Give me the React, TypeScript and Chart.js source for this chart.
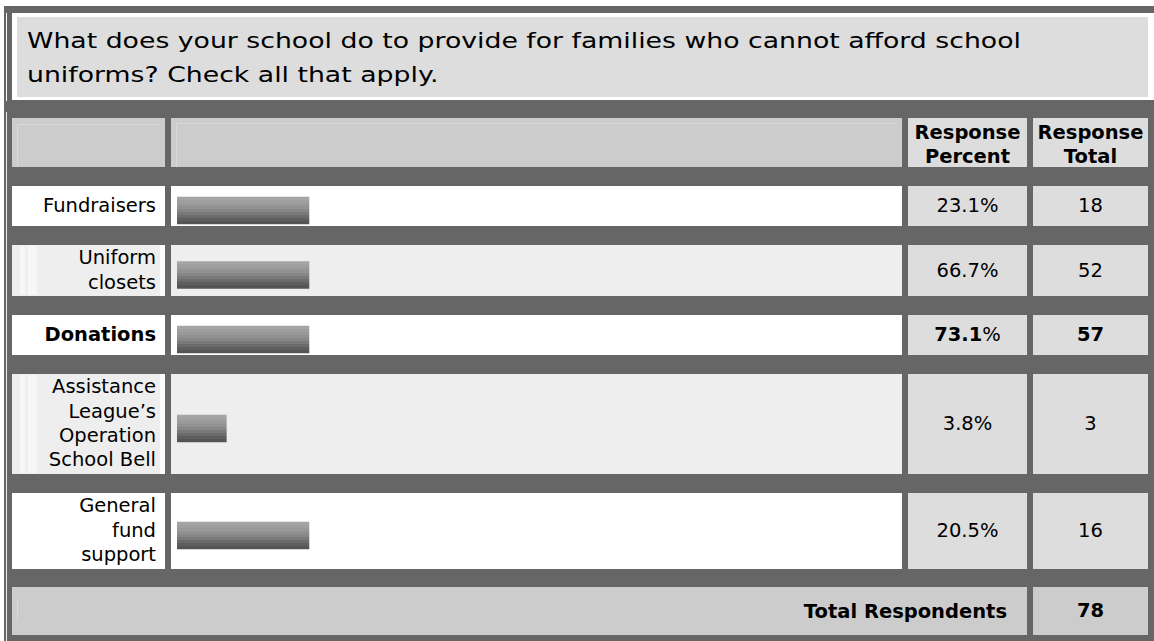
import React, { useEffect, useRef } from "react";
import { Chart, registerables } from "chart.js";

Chart.register(...registerables);

// ---------- data ----------
const questionLines = [
  "What does your school do to provide for families who cannot afford school",
  "uniforms? Check all that apply.",
];
const categories = [
  "Fundraisers",
  "Uniform closets",
  "Donations",
  "Assistance League\u2019s Operation School Bell",
  "General fund support",
];
const responsePercent = ["23.1", "66.7", "73.1", "3.8", "20.5"];
const responseTotal = [18, 52, 57, 3, 16];
// bar lengths as they are drawn in the picture (percent of the bar column)
const barLength = [18.2, 18.2, 18.2, 6.8, 18.2];
const highlighted = [false, false, true, false, false];
const totalRespondents = 78;
const headerPercent = ["Response", "Percent"];
const headerTotal = ["Response", "Total"];
const totalLabel = "Total Respondents";

// ---------- styling / layout ----------
const DARK = "#666666";
const FONT = "'DejaVu Sans', Verdana, sans-serif";
const FS = 19.5;
const barBands = [
  "#a5a5a5",
  "#9f9f9f",
  "#999999",
  "#919191",
  "#878787",
  "#797979",
  "#6b6b6b",
  "#5e5e5e",
  "#555555",
];

const COL = {
  label: { x: 12, w: 153 },
  bar: { x: 171, w: 731 },
  pct: { x: 908, w: 119 },
  tot: { x: 1033, w: 115 },
};
const HEADER = { y: 118, h: 49 };
const rowHeights = [40, 51, 40, 100, 76];
const ROW_GAP = 19;
const FIRST_ROW_Y = 186;
const TOTAL = { y: 587, h: 48 };

function rowTops() {
  const tops: number[] = [];
  let y = FIRST_ROW_Y;
  for (const h of rowHeights) {
    tops.push(y);
    y += h + ROW_GAP;
  }
  return tops;
}

function bandGradient(ctx: any) {
  const chart = ctx.chart;
  const area = chart.chartArea;
  if (!area) return "#888888";
  const yc = (area.top + area.bottom) / 2;
  const top = yc - 13.5;
  const bottom = yc + 13.5;
  const g = chart.ctx.createLinearGradient(0, top, 0, bottom);
  const n = barBands.length;
  barBands.forEach((c, i) => {
    g.addColorStop(i / n, c);
    g.addColorStop(Math.min(1, (i + 1) / n - 0.0001), c);
  });
  return g;
}

function BarCell({ value, width, height }: { value: number; width: number; height: number }) {
  const ref = useRef<HTMLCanvasElement>(null);
  useEffect(() => {
    if (!ref.current) return;
    const chart = new Chart(ref.current, {
      type: "bar",
      data: {
        labels: [""],
        datasets: [
          {
            data: [value],
            backgroundColor: bandGradient as any,
            borderWidth: 0,
            barThickness: 27,
          },
        ],
      },
      options: {
        indexAxis: "y",
        responsive: false,
        animation: false,
        layout: { padding: { left: 6, right: 0, top: 9, bottom: 0 } },
        plugins: { legend: { display: false }, tooltip: { enabled: false } },
        scales: {
          x: { display: false, min: 0, max: 100 },
          y: { display: false },
        },
      },
    });
    return () => chart.destroy();
  }, [value, width, height]);
  return <canvas ref={ref} width={width} height={height} style={{ display: "block" }} />;
}

const abs = (x: number, y: number, w: number, h: number, extra: any = {}) => ({
  position: "absolute" as const,
  left: x,
  top: y,
  width: w,
  height: h,
  boxSizing: "border-box" as const,
  ...extra,
});

const centerCell = {
  display: "flex",
  alignItems: "center",
  justifyContent: "center",
  textAlign: "center" as const,
  fontFamily: FONT,
  fontSize: FS,
  lineHeight: "24px",
  color: "#000",
};

export default function App() {
  const tops = rowTops();
  return (
    <div
      style={{
        position: "absolute",
        left: 0,
        top: 0,
        width: 1154,
        height: 641,
        overflow: "hidden",
        background: "#ffffff",
        fontFamily: FONT,
      }}
    >
      {/* question frame */}
      <div style={abs(4, 6, 1150, 7, { background: DARK })} />
      <div style={abs(4, 6, 8, 100, { background: DARK })} />
      <div style={abs(17, 17, 1131, 80, { background: "#dddddd" })}>
        <div
          style={{
            position: "absolute",
            left: 10,
            top: 7,
            fontFamily: FONT,
            fontSize: 22,
            lineHeight: "34px",
            color: "#000",
            whiteSpace: "nowrap",
            transform: "scaleX(1.214)",
            transformOrigin: "0 0",
          }}
        >
          {questionLines.map((l, i) => (
            <div key={i}>{l}</div>
          ))}
        </div>
      </div>

      {/* table background */}
      <div style={abs(4, 100, 1150, 541, { background: DARK })} />
      <div style={abs(6, 13, 1, 88, { background: "#ffffff" })} />
      <div style={abs(6, 112, 1, 529, { background: "#f0f0f0" })} />

      {/* header row */}
      <div style={abs(COL.label.x, HEADER.y, COL.label.w, HEADER.h, { background: "#cccccc" })}>
        <div style={abs(5, 6, COL.label.w - 10, HEADER.h - 6, { borderTop: "1px solid #d8d8d8", borderLeft: "1px solid #d8d8d8" })} />
      </div>
      <div style={abs(COL.bar.x, HEADER.y, COL.bar.w, HEADER.h, { background: "#cccccc" })}>
        <div style={abs(5, 5, COL.bar.w - 10, HEADER.h - 5, { borderTop: "1px solid #d8d8d8", borderLeft: "1px solid #d8d8d8" })} />
      </div>
      <div style={abs(COL.pct.x, HEADER.y, COL.pct.w, HEADER.h, { background: "#dddddd", ...centerCell, fontWeight: "bold", paddingTop: 4 })}>
        <div>
          {headerPercent.map((t, i) => (
            <div key={i}>{t}</div>
          ))}
        </div>
      </div>
      <div style={abs(COL.tot.x, HEADER.y, COL.tot.w, HEADER.h, { background: "#dddddd", ...centerCell, fontWeight: "bold", paddingTop: 4 })}>
        <div>
          {headerTotal.map((t, i) => (
            <div key={i}>{t}</div>
          ))}
        </div>
      </div>

      {/* data rows */}
      {categories.map((cat, i) => {
        const y = tops[i];
        const h = rowHeights[i];
        const bg = i % 2 === 1 ? "#eeeeee" : "#ffffff";
        const bold = highlighted[i];
        return (
          <React.Fragment key={cat}>
            <div style={abs(COL.label.x, y, COL.label.w, h, { background: bg })}>
              {i % 2 === 1 && (
                <>
                  <div style={abs(8, 1, 5, h - 2, { background: "#f7f7f7" })} />
                  <div style={abs(16, 1, 9, h - 2, { background: "#f7f7f7" })} />
                  <div style={abs(COL.label.w - 5, 0, 5, h, { background: "#fbfbfb" })} />
                </>
              )}
              <div
                style={{
                  position: "absolute",
                  right: 9,
                  top: 0,
                  height: h,
                  width: 119,
                  display: "flex",
                  alignItems: "center",
                  justifyContent: "flex-end",
                  textAlign: "right",
                  fontFamily: FONT,
                  fontSize: FS,
                  lineHeight: "24.4px",
                  fontWeight: bold ? "bold" : "normal",
                  color: "#000",
                }}
              >
                <div>{cat}</div>
              </div>
            </div>
            <div style={abs(COL.bar.x, y, COL.bar.w, h, { background: bg })}>
              <BarCell value={barLength[i]} width={COL.bar.w} height={h} />
            </div>
            <div style={abs(COL.pct.x, y, COL.pct.w, h, { background: "#dddddd", ...centerCell })}>
              <span>
                <span style={{ fontWeight: bold ? "bold" : "normal" }}>{responsePercent[i]}</span>%
              </span>
            </div>
            <div style={abs(COL.tot.x, y, COL.tot.w, h, { background: "#dddddd", ...centerCell, fontWeight: bold ? "bold" : "normal" })}>
              {responseTotal[i]}
            </div>
          </React.Fragment>
        );
      })}

      {/* total row */}
      <div
        style={abs(COL.label.x, TOTAL.y, COL.pct.x + COL.pct.w - COL.label.x, TOTAL.h, {
          background: "#cccccc",
          display: "flex",
          alignItems: "center",
          justifyContent: "flex-end",
          paddingRight: 20,
          fontFamily: FONT,
          fontSize: FS,
          fontWeight: "bold",
          color: "#000",
        })}
      >
        <div style={abs(5, 13, 1, 22, { background: "#d8d8d8" })} />
        {totalLabel}
      </div>
      <div style={abs(COL.tot.x, TOTAL.y, COL.tot.w, TOTAL.h, { background: "#cccccc", ...centerCell, fontWeight: "bold" })}>
        {totalRespondents}
      </div>
    </div>
  );
}
